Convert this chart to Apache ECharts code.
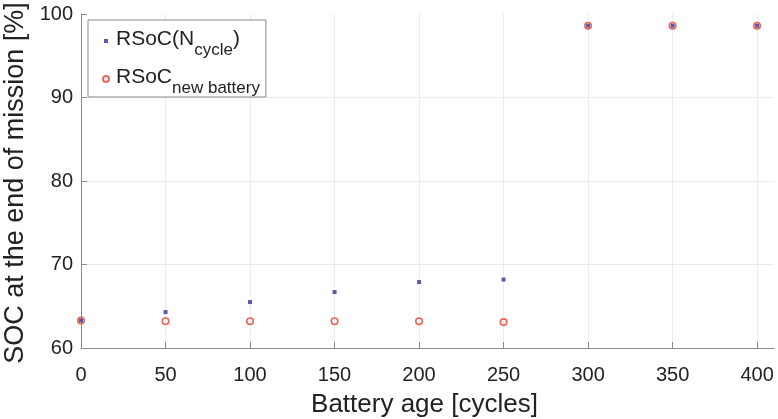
<!DOCTYPE html>
<html>
<head>
<meta charset="utf-8">
<script src="https://cdn.jsdelivr.net/npm/echarts@6/dist/echarts.min.js"></script>
<style>
html,body{margin:0;padding:0;background:#fff;}
#c{width:778px;height:419px;}
</style>
</head>
<body>
<div id="c"></div>
<script>
// Data
var batteryAge = [0, 50, 100, 150, 200, 250, 300, 350, 400];
var rsocNcycle = [63.3, 64.3, 65.5, 66.7, 67.9, 68.2, 98.6, 98.6, 98.6];
var rsocNewBattery = [63.3, 63.2, 63.2, 63.2, 63.2, 63.1, 98.6, 98.6, 98.6];
var xTicks = [0, 50, 100, 150, 200, 250, 300, 350, 400];
var yTicks = [60, 70, 80, 90, 100];

function pairs(xs, ys) { return xs.map(function (x, i) { return [x, ys[i]]; }); }

var font = 'Liberation Sans, Arial, Helvetica, sans-serif';
var squareIcon = 'path://M0,0L0,0M10,10L10,10M3,3L7,3L7,7L3,7Z';
var circleIcon = 'path://M0,0L0,0M10,10L10,10M8,5A3,3,0,1,1,2,5A3,3,0,1,1,8,5Z';
var chart = echarts.init(document.getElementById('c'), null, {renderer: 'canvas'});
chart.setOption({
  backgroundColor: '#fff',
  animation: false,
  textStyle: {fontFamily: font},
  grid: {left: 81, right: 4, top: 14, bottom: 71, containLabel: false, outerBoundsMode: 'none'},
  legend: {
    orient: 'vertical',
    left: 88, top: 20,
    padding: [3, 6, 0, 12],
    itemGap: 2,
    itemWidth: 10, itemHeight: 10,
    backgroundColor: '#fff',
    borderColor: '#8a8a8a', borderWidth: 1,
    data: [
      {name: 'RSoC(N_cycle)', icon: squareIcon},
      {name: 'RSoC_new battery', icon: circleIcon}
    ],
    formatter: function (name) {
      if (name === 'RSoC(N_cycle)') return '{a|RSoC(N}{s|cycle}{a|)}';
      return '{a|RSoC}{s|new battery}';
    },
    textStyle: {
      fontFamily: font, color: '#222',
      rich: {
        a: {fontSize: 21, lineHeight: 24, verticalAlign: 'top', fontFamily: font, color: '#222'},
        s: {fontSize: 17, lineHeight: 17, padding: [19, 0, 0, 0], fontFamily: font, color: '#222'}
      }
    }
  },
  xAxis: {
    type: 'value', min: 0, max: 410, interval: 50,
    name: 'Battery age [cycles]', nameLocation: 'middle', nameGap: 44,
    nameTextStyle: {fontSize: 26, color: '#222', fontFamily: font, padding: [0, 6, 0, 0]},
    axisLine: {lineStyle: {color: '#8a8a8a', width: 1}},
    axisTick: {inside: true, length: 6, lineStyle: {color: '#8a8a8a'}, customValues: xTicks},
    axisLabel: {fontSize: 20, color: '#222', margin: 17, customValues: xTicks, fontFamily: font},
    splitLine: {show: true, lineStyle: {color: '#ebebeb', width: 1}}
  },
  yAxis: {
    type: 'value', min: 60, max: 100, interval: 10,
    name: 'SOC at the end of mission [%]', nameLocation: 'middle', nameGap: 43,
    nameTextStyle: {fontSize: 27, color: '#222', fontFamily: font, padding: [0, 4, 0, 0]},
    axisLine: {show: true, lineStyle: {color: '#8a8a8a', width: 1}},
    axisTick: {show: true, inside: true, length: 6, lineStyle: {color: '#8a8a8a'}, customValues: yTicks},
    axisLabel: {fontSize: 20, color: '#222', margin: 8, customValues: yTicks, fontFamily: font},
    splitLine: {show: true, lineStyle: {color: ['#ebebeb', '#ebebeb', '#ebebeb', '#ebebeb', 'rgba(0,0,0,0)'], width: 1}}
  },
  series: [
    {
      name: 'RSoC(N_cycle)', type: 'scatter', symbol: 'rect', symbolSize: 4,
      itemStyle: {color: '#33339a'},
      data: pairs(batteryAge, rsocNcycle), z: 2
    },
    {
      name: 'RSoC_new battery', type: 'scatter', symbol: 'circle', symbolSize: 6.5,
      itemStyle: {color: 'rgba(255,255,255,0)', borderColor: '#e5402f', borderWidth: 1.6},
      data: pairs(batteryAge, rsocNewBattery), z: 3
    }
  ]
});
</script>
</body>
</html>
